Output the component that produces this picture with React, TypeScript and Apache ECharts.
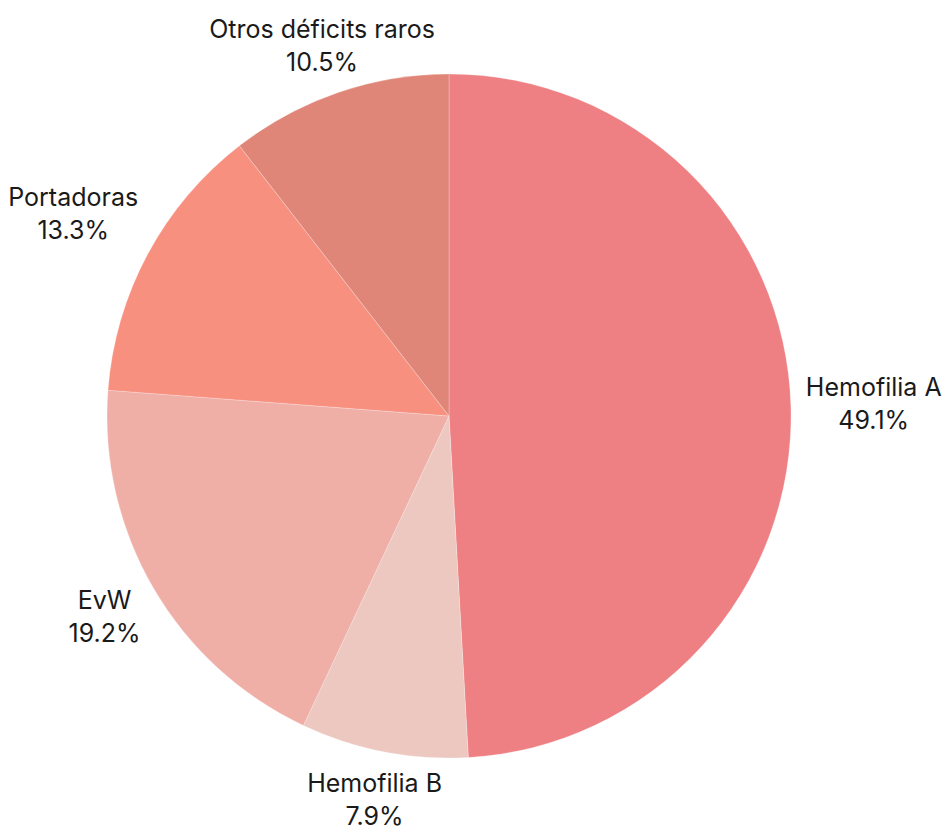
import React, { useEffect, useRef } from "react";
import * as echarts from "echarts";

const categories = ["Hemofilia A", "Hemofilia B", "EvW", "Portadoras", "Otros déficits raros"];
const percentages = [49.1, 7.9, 19.2, 13.3, 10.5];
const colors = ["#EE7F82", "#ECC8C0", "#EFAEA6", "#F89080", "#E08678"];

const CX = 449;
const CY = 416;
const R = 342;
const GAP = 15;

export default function App() {
  const ref = useRef<HTMLDivElement>(null);
  useEffect(() => {
    if (!ref.current) return;
    const chart = echarts.init(ref.current, null, { renderer: "svg" });
    const total = percentages.reduce((a, b) => a + b, 0);
    chart.setOption({
      animation: false,
      series: [
        {
          type: "pie",
          center: [CX, CY],
          radius: [0, R],
          startAngle: 90,
          clockwise: true,
          avoidLabelOverlap: false,
          data: categories.map((name, i) => ({
            name,
            value: percentages[i],
            itemStyle: { color: colors[i] },
          })),
          itemStyle: { borderColor: "rgba(255,255,255,0.5)", borderWidth: 0.5 },
          emphasis: { disabled: true },
          labelLine: { show: false },
          label: {
            show: true,
            position: "outside",
            overflow: "none",
            formatter: "{b}\n{c}%",
            fontFamily: "Inter, 'Noto Sans', sans-serif",
            fontSize: 25,
            lineHeight: 33,
            color: "#1a1a1a",
          },
          labelLayout: (params: any) => {
            const i = params.dataIndex;
            let before = 0;
            for (let k = 0; k < i; k++) before += percentages[k];
            const mid = (before + percentages[i] / 2) / total;
            const th = mid * Math.PI * 2;
            const dx = Math.sin(th);
            const dy = -Math.cos(th);
            const w = params.labelRect.width;
            const h = params.labelRect.height;
            const ex = Math.abs(dx) > 1e-6 ? w / 2 / Math.abs(dx) : Infinity;
            const ey = Math.abs(dy) > 1e-6 ? h / 2 / Math.abs(dy) : Infinity;
            const d = R + GAP + Math.min(ex, ey);
            return {
              x: CX + dx * d,
              y: CY + dy * d,
              align: "center",
              verticalAlign: "middle",
            };
          },
        },
      ],
    });
    return () => chart.dispose();
  }, []);
  return (
    <div
      ref={ref}
      style={{ position: "absolute", left: 0, top: 0, width: 946, height: 832 }}
    />
  );
}
